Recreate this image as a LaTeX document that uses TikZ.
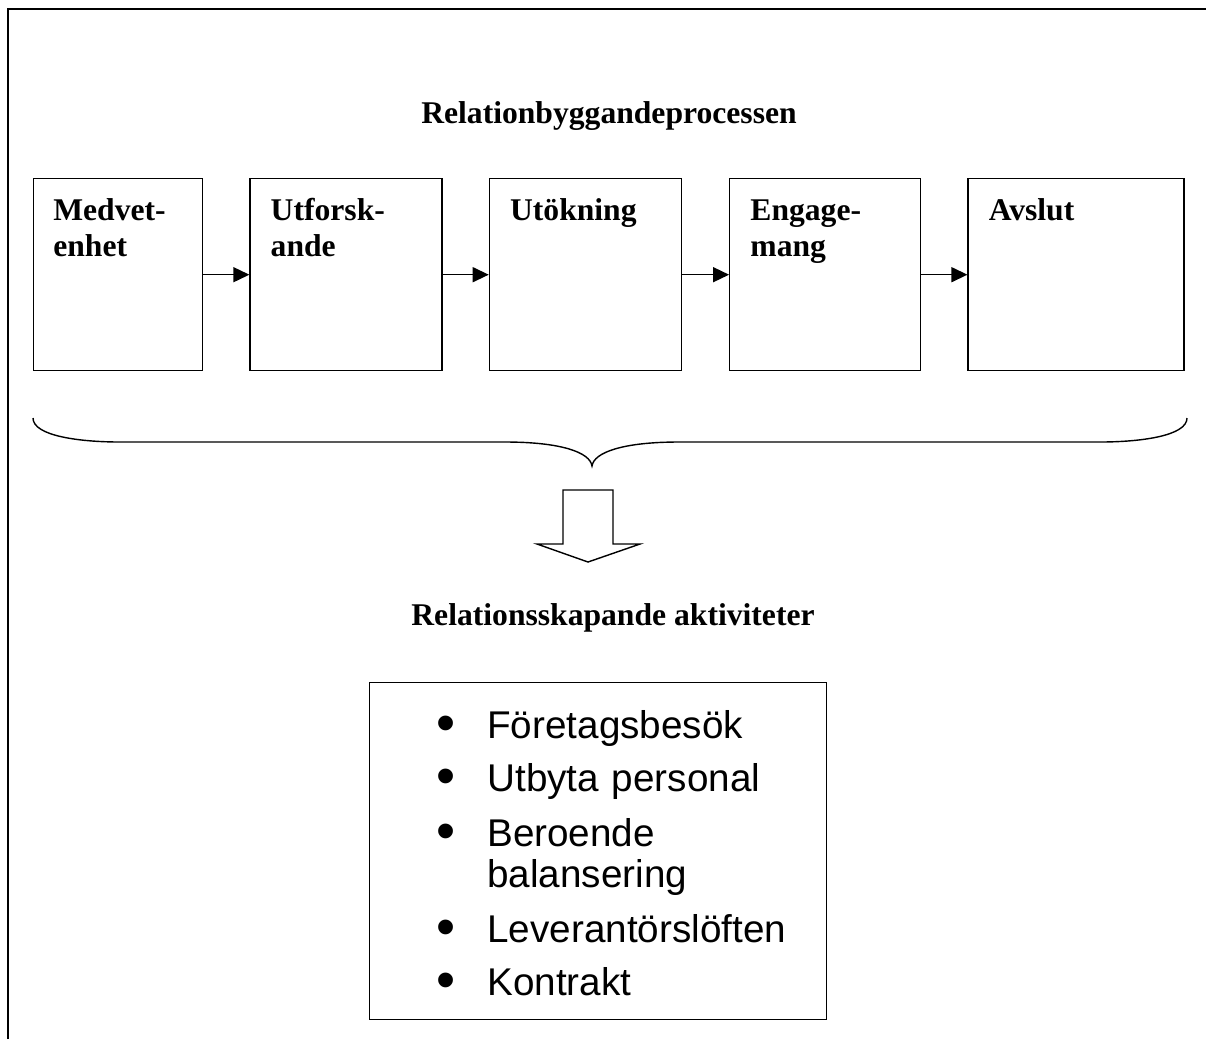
\documentclass[tikz,border=0pt]{standalone}
\usepackage{fontspec}
\setmainfont{Liberation Serif}
\newfontfamily\listfont{Liberation Sans}
\usetikzlibrary{arrows.meta,positioning}

\begin{document}
\begin{tikzpicture}[
    x=0.02cm, y=-0.02cm,
    stage/.style={rectangle, draw, line width=0.8pt, minimum height=3.84cm, inner sep=0pt},
    stagelabel/.style={anchor=base west, inner sep=0pt, text width=3cm, align=left, font=\fontsize{18}{20.5}\selectfont\bfseries},
    heading/.style={anchor=base, inner sep=0pt, font=\fontsize{18}{20.5}\selectfont\bfseries},
    flow/.style={-{Triangle[length=0.32cm,width=0.3cm]}, line width=0.8pt},
    listbox/.style={rectangle, draw, line width=0.8pt, minimum width=9.14cm, minimum height=6.74cm, anchor=north west, inner sep=0pt},
    bulletmark/.style={anchor=base, inner sep=0pt, font=\listfont\fontsize{31}{31}\selectfont},
    listitem/.style={anchor=base west, inner sep=0pt, text width=7.2cm, align=left, font=\listfont\fontsize{22}{23.8}\selectfont}
]
\useasboundingbox (0,0) rectangle (1206,1039);

% Frame
\draw[line width=1.2pt] (8,1039) -- (8,9) -- (1206,9);

% Heading
\node[heading] (proctitle) at (609,123) {Relationbyggandeprocessen};

% Stages
\node[stage, minimum width=3.38cm, anchor=north west] (medbox) at (33,178) {};
\node[stage, minimum width=3.84cm, right=0.92cm of medbox] (utfbox) {};
\node[stage, minimum width=3.84cm, right=0.92cm of utfbox] (utobox) {};
\node[stage, minimum width=3.82cm, right=0.94cm of utobox] (engbox) {};
\node[stage, minimum width=4.32cm, right=0.92cm of engbox] (avsbox) {};

\node[stagelabel] (medlbl) at ([shift={(20,42)}]medbox.north west) {Medvet-\\enhet};
\node[stagelabel] (utflbl) at ([shift={(21,42)}]utfbox.north west) {Utforsk-\\ande};
\node[stagelabel] (utolbl) at ([shift={(21,42)}]utobox.north west) {Utökning};
\node[stagelabel] (englbl) at ([shift={(21,42)}]engbox.north west) {Engage-\\mang};
\node[stagelabel] (avslbl) at ([shift={(21,42)}]avsbox.north west) {Avslut};

% Flow between stages
\draw[flow] (medbox) -- (utfbox);
\draw[flow] (utfbox) -- (utobox);
\draw[flow] (utobox) -- (engbox);
\draw[flow] (engbox) -- (avsbox);

% Brace under the stages
\draw[line width=0.8pt] (33,418) .. controls (33,436) and (80,442) .. (120,442)
    -- (505,442) .. controls (560,442) and (590,452) .. (592,466)
    .. controls (594,452) and (624,442) .. (679,442)
    -- (1100,442) .. controls (1140,442) and (1187,436) .. (1187,418);

% Block arrow
\draw[line width=0.8pt] (563,490) -- (613,490) -- (613,544) -- (640,544)
    -- (588,562) -- (537,544) -- (563,544) -- cycle;

\node[heading] (acttitle) at (613,625) {Relationsskapande aktiviteter};

% Activities
\node[listbox] (actbox) at (369,682) {};
\foreach \y/\txt [count=\i] in {738/Företagsbesök, 791/Utbyta personal,
    846/{Beroende\\balansering}, 942/Leverantörslöften, 995/Kontrakt}{
  \node[bulletmark] (dot\i) at (446,\y+3) {•};
  \node[listitem] (item\i) at (487,\y) {\txt};
}

\end{tikzpicture}
\end{document}
